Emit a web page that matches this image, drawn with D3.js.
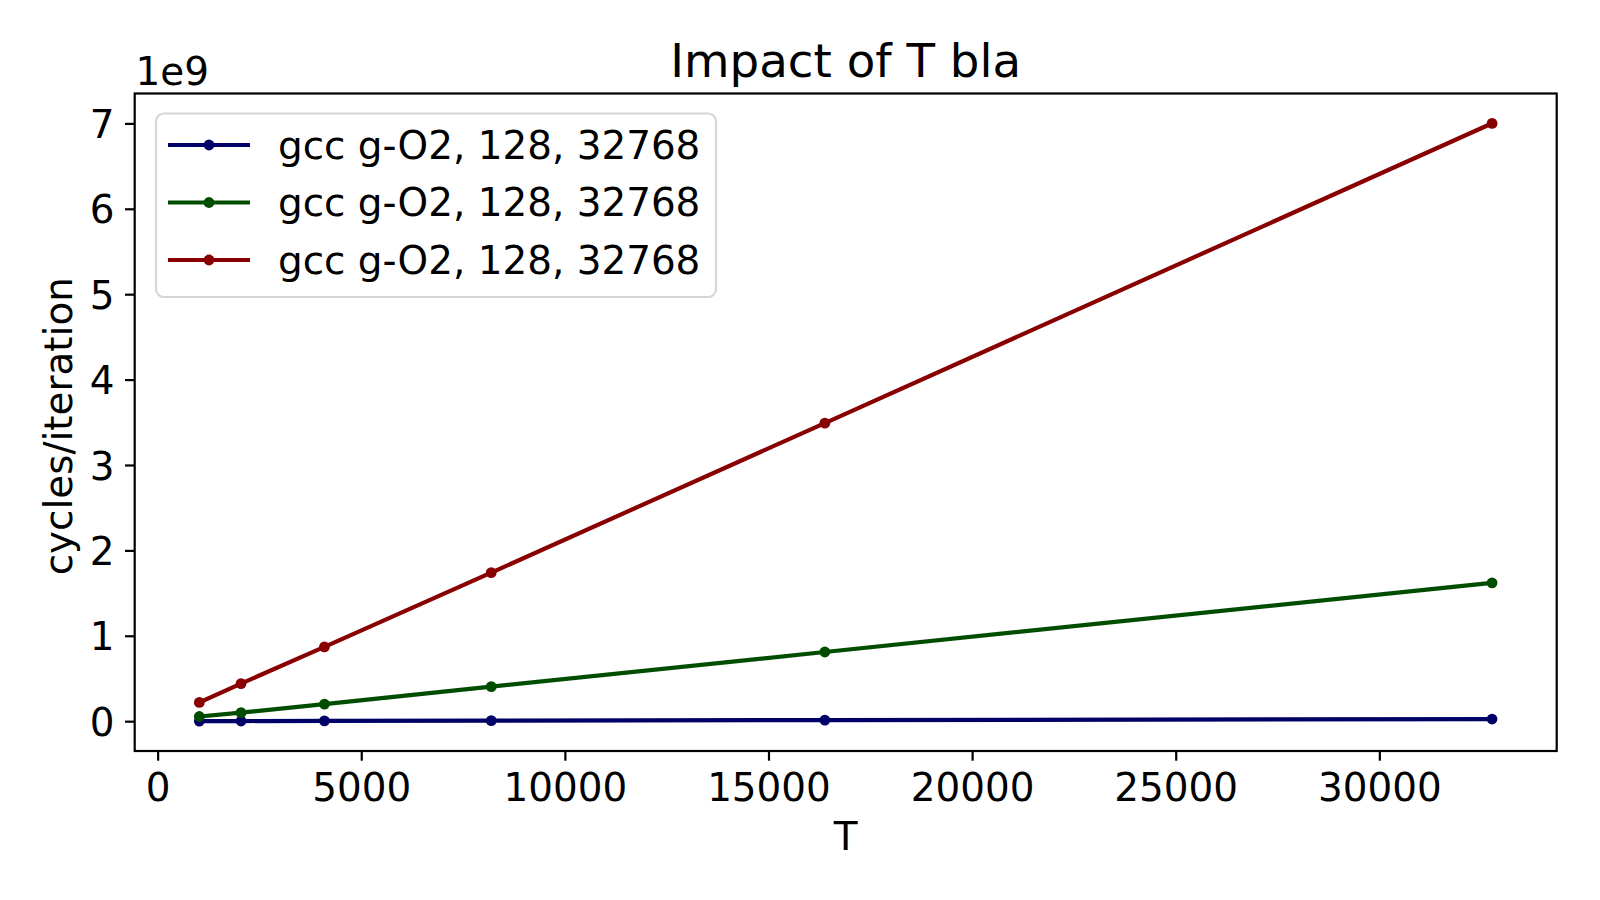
<!DOCTYPE html>
<html>
<head>
<meta charset="utf-8">
<script src="https://cdn.jsdelivr.net/npm/d3@7"></script>
<style>
  body { margin: 0; background: #fff; }
  svg text { font-family: "DejaVu Sans", sans-serif; fill: #000; }
</style>
</head>
<body>
<svg id="chart" width="1600" height="900"></svg>
<script>
// values (y in units of 1e9 cycles)
const tValues = [1024, 2048, 4096, 8192, 16384, 32768];
const blueValues = [0.0008, 0.0016, 0.0031, 0.0062, 0.0124, 0.025];
const greenValues = [0.055, 0.10, 0.20, 0.405, 0.81, 1.62];
const redValues = [0.22, 0.44, 0.87, 1.74, 3.49, 7.0];
const seriesLabels = ["gcc g-O2, 128, 32768", "gcc g-O2, 128, 32768", "gcc g-O2, 128, 32768"];
const seriesColors = ["#000066", "#004d00", "#880000"];
const xTicks = [0, 5000, 10000, 15000, 20000, 25000, 30000];
const yTicks = [0, 1, 2, 3, 4, 5, 6, 7];

const series = [blueValues, greenValues, redValues].map((vals, i) => ({
  label: seriesLabels[i],
  color: seriesColors[i],
  points: vals.map((v, j) => ({ t: tValues[j], v: v }))
}));

const svg = d3.select("#chart");
const plotLeft = 134.7, plotRight = 1556.7, plotTop = 93.5, plotBottom = 751;
const fs = 38.9;

// matplotlib style 5% margins
function padded(lo, hi) {
  const m = (hi - lo) * 0.05;
  return [lo - m, hi + m];
}
const allV = [].concat(blueValues, greenValues, redValues);

const x = d3.scaleLinear()
  .domain(padded(d3.min(tValues), d3.max(tValues)))
  .range([plotLeft, plotRight]);
const y = d3.scaleLinear()
  .domain(padded(d3.min(allV), d3.max(allV)))
  .range([plotBottom, plotTop]);

// axes
const gx = svg.append("g")
  .attr("transform", `translate(0,${plotBottom})`)
  .call(d3.axisBottom(x).tickValues(xTicks).tickFormat(d3.format("d"))
    .tickSize(9.7).tickPadding(12.4));
const gy = svg.append("g")
  .attr("transform", `translate(${plotLeft},0)`)
  .call(d3.axisLeft(y).tickValues(yTicks).tickFormat(d3.format("d"))
    .tickSize(9.7).tickPadding(10.5));

[gx, gy].forEach(g => {
  g.select(".domain").remove();
  g.selectAll(".tick line").attr("stroke", "#000").attr("stroke-width", 2.2);
  g.selectAll(".tick text").style("font-size", fs + "px").attr("fill", "#000")
    .style("font-family", "DejaVu Sans");
});
gy.selectAll(".tick text").attr("dy", "0.365em");

// lines + markers
const line = d3.line().x(d => x(d.t)).y(d => y(d.v));
series.forEach(s => {
  svg.append("path")
    .attr("d", line(s.points))
    .attr("fill", "none")
    .attr("stroke", s.color)
    .attr("stroke-width", 4.2)
    .attr("stroke-linejoin", "round")
    .attr("stroke-linecap", "square");
  svg.append("g").selectAll("circle")
    .data(s.points)
    .join("circle")
    .attr("cx", d => x(d.t))
    .attr("cy", d => y(d.v))
    .attr("r", 5.4)
    .attr("fill", s.color);
});

// frame
svg.append("rect")
  .attr("x", plotLeft).attr("y", plotTop)
  .attr("width", plotRight - plotLeft).attr("height", plotBottom - plotTop)
  .attr("fill", "none").attr("stroke", "#000").attr("stroke-width", 2.2);

// legend
const lg = svg.append("g");
lg.append("rect")
  .attr("x", 156).attr("y", 113.5)
  .attr("width", 560).attr("height", 183.5)
  .attr("rx", 8).attr("ry", 8)
  .attr("fill", "rgba(255,255,255,0.8)")
  .attr("stroke", "#d6d6d6").attr("stroke-width", 2.2);
series.forEach((s, i) => {
  const cy = 145 + i * 57.5;
  lg.append("line")
    .attr("x1", 168).attr("x2", 250).attr("y1", cy).attr("y2", cy)
    .attr("stroke", s.color).attr("stroke-width", 4.2);
  lg.append("circle").attr("cx", 209).attr("cy", cy).attr("r", 5.4).attr("fill", s.color);
  lg.append("text")
    .attr("x", 278).attr("y", cy + 13.5)
    .style("font-size", fs + "px")
    .text(s.label);
});

// texts
svg.append("text")
  .attr("x", (plotLeft + plotRight) / 2).attr("y", 76.7)
  .attr("text-anchor", "middle")
  .style("font-size", "46.7px")
  .text("Impact of T bla");
svg.append("text")
  .attr("x", (plotLeft + plotRight) / 2).attr("y", 850)
  .attr("text-anchor", "middle")
  .style("font-size", fs + "px")
  .text("T");
svg.append("text")
  .attr("transform", `translate(72,${(plotTop + plotBottom) / 2 + 4}) rotate(-90)`)
  .attr("text-anchor", "middle")
  .style("font-size", fs + "px")
  .text("cycles/iteration");
svg.append("text")
  .attr("x", 135.5).attr("y", 85)
  .style("font-size", fs + "px")
  .text("1e9");
</script>
</body>
</html>
